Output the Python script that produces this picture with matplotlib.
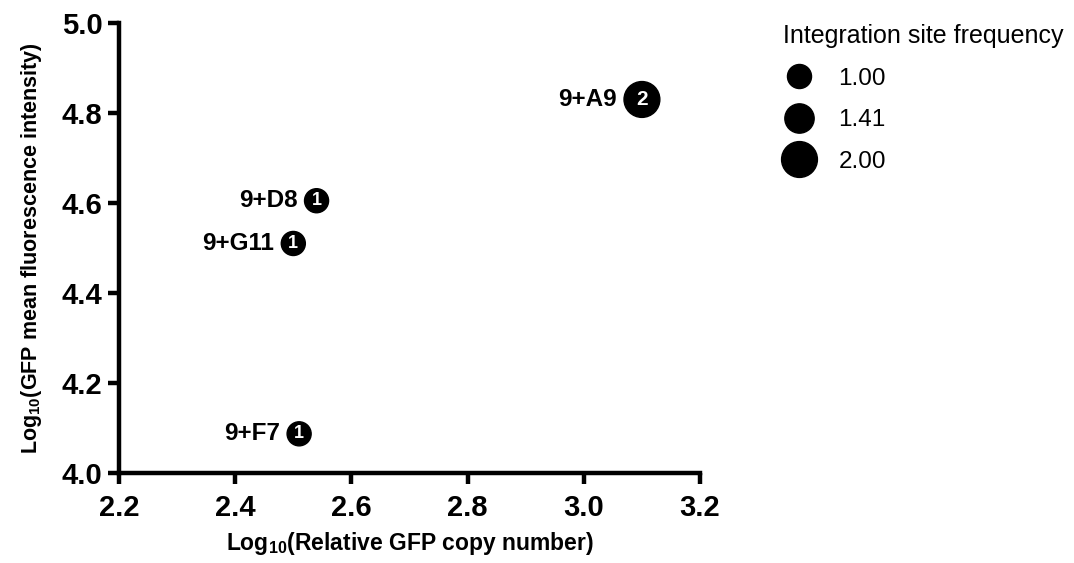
import numpy as np
import matplotlib
matplotlib.use("Agg")
import matplotlib.pyplot as plt
from matplotlib.lines import Line2D

plt.rcParams['font.family'] = ['Liberation Sans', 'DejaVu Sans']
plt.rcParams['mathtext.fontset'] = 'custom'
plt.rcParams['mathtext.rm'] = 'Liberation Sans'
plt.rcParams['mathtext.bf'] = 'Liberation Sans:bold'

# clone data
clones = ['9+A9', '9+D8', '9+G11', '9+F7']
copy_number = [3.10, 2.54, 2.50, 2.51]
fluorescence = [4.83, 4.605, 4.51, 4.087]
site_freq = [2, 1, 1, 1]

legend_values = [1.00, 1.41, 2.00]
x_ticks = [2.2, 2.4, 2.6, 2.8, 3.0, 3.2]
y_ticks = [4.0, 4.2, 4.4, 4.6, 4.8, 5.0]

SIZE_SCALE = 300


def marker_area(v):
    return SIZE_SCALE * v ** 1.15


fig = plt.figure(figsize=(10.74, 5.63), dpi=100)
ax = fig.add_axes([0.1108, 0.1599, 0.541, 0.7993])

ax.scatter(copy_number, fluorescence, s=[marker_area(f) for f in site_freq],
           color='black', zorder=3, clip_on=False)

for name, x, y, f in zip(clones, copy_number, fluorescence, site_freq):
    r = np.sqrt(marker_area(f)) / 2
    ax.annotate(str(f), (x, y), ha='center', va='center', color='white',
                fontsize=15 if f > 1 else 13, fontweight='bold', zorder=4)
    ax.annotate(name, (x, y), xytext=(-r - 5, 0), textcoords='offset points',
                ha='right', va='center', fontsize=17.5, fontweight='bold')

ax.set_xlim(2.2, 3.2)
ax.set_ylim(4.0, 5.0)
ax.set_xticks(x_ticks)
ax.set_yticks(y_ticks)
ax.set_xticklabels(['%.1f' % t for t in x_ticks])
ax.set_yticklabels(['%.1f' % t for t in y_ticks])

for side in ['top', 'right']:
    ax.spines[side].set_visible(False)
for side in ['left', 'bottom']:
    ax.spines[side].set_linewidth(3.2)
ax.tick_params(width=3.2, length=8, labelsize=21)
ax.tick_params(axis='x', pad=7)
ax.tick_params(axis='y', pad=4)
for lbl in ax.get_xticklabels() + ax.get_yticklabels():
    lbl.set_fontweight('bold')

ax.set_xlabel(r'Log$_{\mathbf{10}}$(Relative GFP copy number)', fontsize=16.5,
              fontweight='bold', labelpad=6)
ax.set_ylabel(r'Log$_{\mathbf{10}}$(GFP mean fluorescence intensity)', fontsize=15.5,
              fontweight='bold', labelpad=13)

handles = [Line2D([], [], marker='o', linestyle='', color='black',
                  markersize=np.sqrt(marker_area(v))) for v in legend_values]
fig.legend(handles, ['%.2f' % v for v in legend_values],
           title='Integration site frequency', loc='upper left',
           bbox_to_anchor=(0.722, 0.97), frameon=False, fontsize=17.5,
           title_fontsize=18, alignment='left', labelspacing=0.8,
           handlelength=1.3, handletextpad=1.0, borderpad=0.3,
           borderaxespad=0.0)

fig.savefig('out.png', dpi=100)
